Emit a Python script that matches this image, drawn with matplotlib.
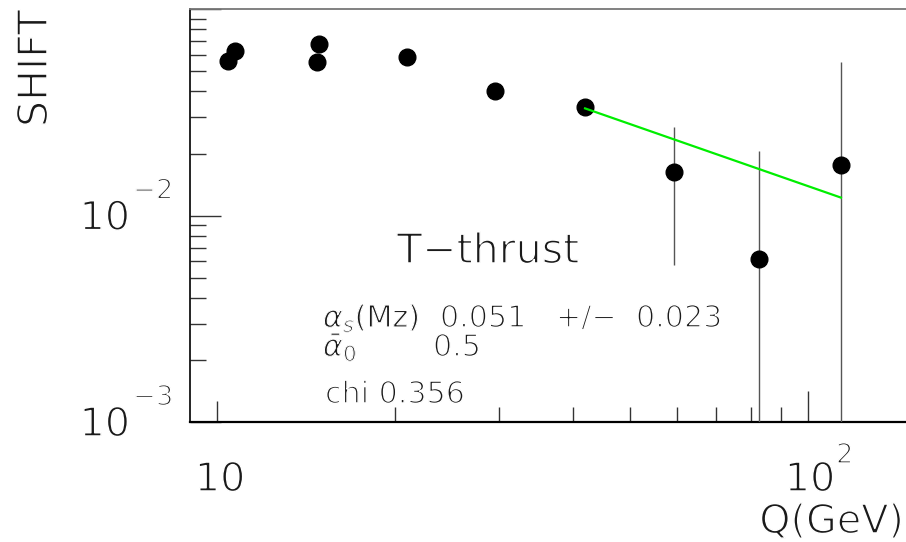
import matplotlib
matplotlib.use('Agg')
import matplotlib.pyplot as plt
import matplotlib.patheffects as pe
from matplotlib.ticker import FixedLocator

plt.rcParams['mathtext.fontset'] = 'dejavusans'

# shift vs. Q, thrust
q = [10.44, 10.73, 14.76, 14.88, 20.97, 29.54, 41.95, 59.33, 82.62, 113.7]
shift = [0.0559, 0.0625, 0.0553, 0.0676, 0.0585, 0.0400, 0.0338, 0.01635, 0.00619, 0.01769]
shift_err = [0.002, 0.002, 0.002, 0.002, 0.002, 0.002, 0.002, 0.0106, 0.0143, 0.0376]

# power-law fit over the high-Q points
fit_q = [41.95, 113.7]
fit_shift = [0.0331, 0.01223]

W, H = 906, 542
fig = plt.figure(figsize=(W / 100, H / 100), dpi=100)
ax = fig.add_axes([190 / W, 1 - 422 / H, (W - 190) / W, (422 - 9.3) / H])

# thin strokes: fill the glyph, then shave the outline with white
THIN = [pe.Normal(), pe.Stroke(linewidth=1.1, foreground='white')]
THIN_M = [pe.Normal(), pe.Stroke(linewidth=0.8, foreground='white')]
FONT = dict(fontfamily='DejaVu Sans', color='#1a1a1a', path_effects=THIN)
FONT_M = dict(fontfamily='DejaVu Sans', color='#1a1a1a', path_effects=THIN_M)


def px(x, y):
    return x / W, 1 - y / H


ax.errorbar(q, shift, yerr=shift_err, fmt='o', color='black', ms=12,
            ecolor='#555555', elinewidth=1.0, capsize=0, zorder=3)
ax.plot(fit_q, fit_shift, color='#00ee00', lw=1.6, zorder=4)

ax.set_xscale('log')
ax.set_yscale('log', nonpositive='clip')
ax.set_xlim(9.0, 146.5)
ax.set_ylim(1e-3, 0.1)

ax.xaxis.set_major_locator(FixedLocator([10, 100]))
ax.xaxis.set_minor_locator(FixedLocator([20, 30, 40, 50, 60, 70, 80, 90]))
ax.yaxis.set_major_locator(FixedLocator([1e-3, 1e-2, 1e-1]))
ax.yaxis.set_minor_locator(FixedLocator([k * 1e-3 for k in range(2, 10)] +
                                        [k * 1e-2 for k in range(2, 10)]))
ax.tick_params(which='both', direction='in', labelbottom=False, labelleft=False,
               width=1.0, color='#333333')
ax.tick_params(axis='y', which='major', length=22.5)
ax.tick_params(axis='y', which='minor', length=11.5)
ax.tick_params(axis='x', which='major', length=22.5)
ax.tick_params(axis='x', which='minor', length=10.8)
ax.xaxis.get_major_ticks()[0].tick1line.set_markersize(15)

ax.spines['right'].set_visible(False)
ax.spines['top'].set_color('#777777')
ax.spines['top'].set_linewidth(1.3)
ax.spines['bottom'].set_linewidth(1.6)
ax.spines['left'].set_linewidth(1.2)

# tick labels in 10^n form
for yv, exp in [(1e-2, '\u22122'), (1e-3, '\u22123')]:
    ax.annotate('10', xy=(0, yv), xycoords=('axes fraction', 'data'),
                xytext=(-60, -14), textcoords='offset pixels',
                ha='right', va='baseline', size=28.6, **FONT)
    ax.annotate(exp, xy=(0, yv), xycoords=('axes fraction', 'data'),
                xytext=(-57, 17), textcoords='offset pixels',
                ha='left', va='baseline', size=19.7, **FONT)

ax.annotate('10', xy=(10, 0), xycoords=('data', 'axes fraction'),
            xytext=(3, -69), textcoords='offset pixels',
            ha='center', va='baseline', size=28.6, **FONT)
ax.annotate('10', xy=(100, 0), xycoords=('data', 'axes fraction'),
            xytext=(2, -69), textcoords='offset pixels',
            ha='center', va='baseline', size=28.6, **FONT)
ax.annotate('2', xy=(100, 0), xycoords=('data', 'axes fraction'),
            xytext=(28, -41), textcoords='offset pixels',
            ha='left', va='baseline', size=19.7, **FONT)

fig.text(*px(904, 533), 'Q(GeV)', ha='right', va='baseline', size=28.6, **FONT)
fig.text(*px(47, 10), 'SHIFT', rotation=90, rotation_mode='anchor',
         ha='right', va='baseline', size=29.6, **FONT)

fig.text(*px(397, 263), 'T\u2212thrust', ha='left', va='baseline', size=29.6, **FONT)

# fit results
fig.text(*px(323, 327), r'$\alpha_s$(Mz)', ha='left', va='baseline', size=21.7, **FONT_M)
fig.text(*px(440, 327), '0.051', ha='left', va='baseline', size=21.7, **FONT)
fig.text(*px(556, 327), '+/\u2212', ha='left', va='baseline', size=21.7, **FONT)
fig.text(*px(636, 327), '0.023', ha='left', va='baseline', size=21.7, **FONT)

fig.text(*px(323, 356), r'$\bar{\alpha}_0$', ha='left', va='baseline', size=21.7, **FONT_M)
fig.text(*px(433, 356), '0.5', ha='left', va='baseline', size=21.7, **FONT)

fig.text(*px(325, 403), 'chi 0.356', ha='left', va='baseline', size=21.7, **FONT)

fig.savefig('out.png', dpi=100)
